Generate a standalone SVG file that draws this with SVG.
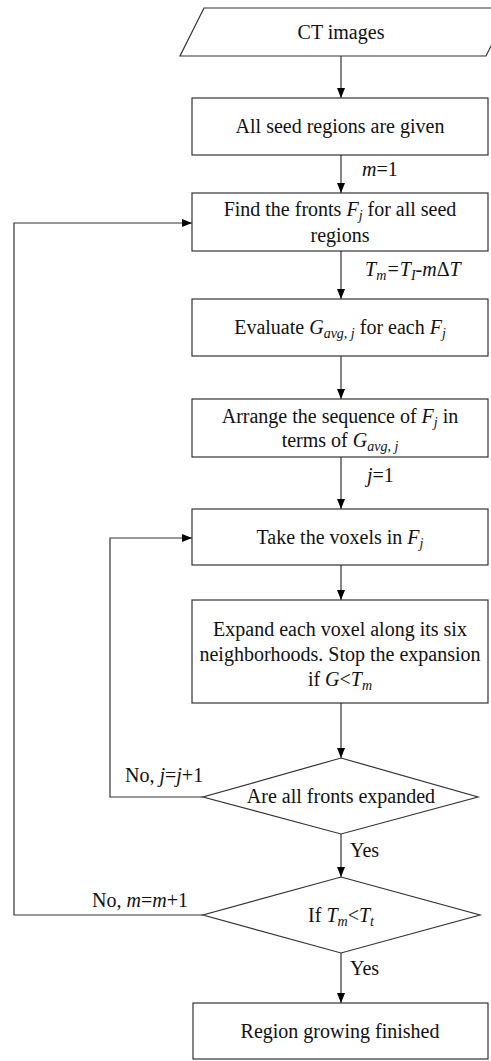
<svg xmlns="http://www.w3.org/2000/svg" width="491" height="1061" viewBox="0 0 491 1061">
<style>
.box{fill:#fff;stroke:#333;stroke-width:1.2}
.ln{fill:none;stroke:#333;stroke-width:1.2}
text{font-family:'Liberation Serif','DejaVu Serif',serif;font-size:20px;fill:#111}
.c{text-anchor:middle}
.i{font-style:italic}
.s{font-size:14px;font-style:italic}
</style>
<defs>
<marker id="ah" viewBox="0 0 10 10" refX="10" refY="5" markerWidth="10" markerHeight="10" markerUnits="userSpaceOnUse" orient="auto">
<path d="M0,1 L10,5 L0,9 Z" fill="#000"/>
</marker>
</defs>
<rect width="491" height="1061" fill="#fff"/>
<g id="connectors" font-family="Liberation Serif, serif">
<line class="ln" x1="341" y1="56" x2="341" y2="98" marker-end="url(#ah)"/>
<line class="ln" x1="341" y1="155" x2="341" y2="193" marker-end="url(#ah)"/>
<line class="ln" x1="341" y1="251" x2="341" y2="299" marker-end="url(#ah)"/>
<line class="ln" x1="341" y1="356" x2="341" y2="399" marker-end="url(#ah)"/>
<line class="ln" x1="341" y1="457" x2="341" y2="509" marker-end="url(#ah)"/>
<line class="ln" x1="341" y1="565" x2="341" y2="600" marker-end="url(#ah)"/>
<line class="ln" x1="341" y1="703" x2="341" y2="758" marker-end="url(#ah)"/>
<line class="ln" x1="341" y1="834" x2="341" y2="877" marker-end="url(#ah)"/>
<line class="ln" x1="341" y1="953" x2="341" y2="1003" marker-end="url(#ah)"/>
<polyline class="ln" points="203,797 110,797 110,538 192,538" marker-end="url(#ah)"/>
<polyline class="ln" points="203,915 14,915 14,223 192,223" marker-end="url(#ah)"/>
<text x="362" y="176"><tspan class="i">m</tspan>=1</text>
<text x="365" y="276" class="i">T<tspan class="s" dy="4">m</tspan><tspan dy="-4">=T</tspan><tspan class="s" dy="4">I</tspan><tspan dy="-4">-m</tspan><tspan font-style="normal">Δ</tspan>T</text>
<text x="367" y="482"><tspan class="i">j</tspan>=1</text>
<text x="125" y="782">No, <tspan class="i">j</tspan>=<tspan class="i">j</tspan>+1</text>
<text x="350" y="857">Yes</text>
<text x="92" y="907">No, <tspan class="i">m</tspan>=<tspan class="i">m</tspan>+1</text>
<text x="350" y="975">Yes</text>
</g>
<g id="ct">
<polygon class="box" points="204,8 510,8 486,56 180,56"/>
<text class="c" x="341" y="39">CT images</text>
</g>
<g id="seed">
<rect class="box" x="192" y="98" width="296" height="57"/>
<text class="c" x="340" y="133">All seed regions are given</text>
</g>
<g id="fronts">
<rect class="box" x="192" y="193" width="296" height="58"/>
<text class="c" x="340" y="216">Find the fronts <tspan class="i">F</tspan><tspan class="s" dy="4">j</tspan><tspan dy="-4"> for all seed</tspan></text>
<text class="c" x="340" y="242">regions</text>
</g>
<g id="evaluate">
<rect class="box" x="192" y="299" width="296" height="57"/>
<text class="c" x="340" y="334">Evaluate <tspan class="i">G</tspan><tspan class="s" dy="4">avg, j</tspan><tspan dy="-4"> for each </tspan><tspan class="i">F</tspan><tspan class="s" dy="4">j</tspan></text>
</g>
<g id="arrange">
<rect class="box" x="192" y="399" width="296" height="58"/>
<text class="c" x="340" y="423">Arrange the sequence of <tspan class="i">F</tspan><tspan class="s" dy="4">j</tspan><tspan dy="-4"> in</tspan></text>
<text class="c" x="340" y="447">terms of <tspan class="i">G</tspan><tspan class="s" dy="4">avg, j</tspan></text>
</g>
<g id="take">
<rect class="box" x="192" y="509" width="296" height="56"/>
<text class="c" x="340" y="544">Take the voxels in <tspan class="i">F</tspan><tspan class="s" dy="4">j</tspan></text>
</g>
<g id="expand">
<rect class="box" x="192" y="600" width="296" height="103"/>
<text class="c" x="340" y="636">Expand each voxel along its six</text>
<text class="c" x="340" y="661">neighborhoods. Stop the expansion</text>
<text class="c" x="340" y="686">if <tspan class="i">G</tspan>&lt;<tspan class="i">T</tspan><tspan class="s" dy="4">m</tspan></text>
</g>
<g id="allfronts">
<polygon class="box" points="341,758 478,797 341,834 203,797"/>
<text class="c" x="341" y="803">Are all fronts expanded</text>
</g>
<g id="threshold">
<polygon class="box" points="341,877 480,915 341,953 203,915"/>
<text class="c" x="341" y="922">If <tspan class="i">T</tspan><tspan class="s" dy="4">m</tspan><tspan dy="-4">&lt;</tspan><tspan class="i">T</tspan><tspan class="s" dy="4">t</tspan></text>
</g>
<g id="finished">
<rect class="box" x="193" y="1003" width="295" height="56"/>
<text class="c" x="340" y="1038">Region growing finished</text>
</g>
</svg>
